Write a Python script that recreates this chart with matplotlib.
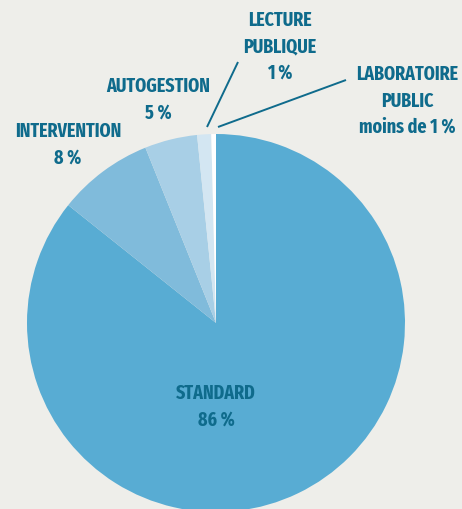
import matplotlib
matplotlib.use("Agg")
import matplotlib.pyplot as plt

categories = ["STANDARD", "INTERVENTION", "AUTOGESTION", "LECTURE PUBLIQUE", "LABORATOIRE PUBLIC"]
values = [85.8, 8.2, 4.5, 1.2, 0.4]
label_texts = ["STANDARD\n86 %", "INTERVENTION\n8 %", "AUTOGESTION\n5 %", "LECTURE\nPUBLIQUE\n1 %", "LABORATOIRE\nPUBLIC\nmoins de 1 %"]
colors = ["#58acd3", "#80bbdb", "#a8cfe6", "#d3e6f2", "#ffffff"]

bg = "#eeeeea"
txt = "#0f6b8c"
fam = ["Fira Sans Extra Condensed", "PT Sans Narrow", "DejaVu Sans"]

fig = plt.figure(figsize=(4.62, 5.10), dpi=100, facecolor=bg)
W, H = 462, 510
cx, cy, r = 216, 324, 189
ax = fig.add_axes([(cx - r) / W, (H - cy - r) / H, 2 * r / W, 2 * r / H])
ax.set_facecolor(bg)
ax.pie(values, colors=colors, startangle=90, counterclock=False, radius=1,
       wedgeprops=dict(linewidth=0))
ax.set_xlim(-1, 1)
ax.set_ylim(-1, 1)
ax.set_aspect("equal")
ax.axis("off")

def d(px, py):
    return ((px - cx) / r, (cy - py) / r)

font = dict(family=fam, fontweight="bold",
            color=txt, fontsize=14, ha="center", va="center", linespacing=1.45)

pos = [d(216, 407), d(68, 145), d(158, 100), d(280, 47), d(407, 101)]
for t, (x, y) in zip(label_texts, pos):
    ax.text(x, y, t, clip_on=False, **font)

for (p1, p2) in [((207, 128), (238, 63)), ((218, 128), (346, 81))]:
    a, b = d(*p1), d(*p2)
    ax.plot([a[0], b[0]], [a[1], b[1]], color=txt, lw=1.4, clip_on=False, solid_capstyle="butt")

fig.savefig("out.png", dpi=100, facecolor=bg)
